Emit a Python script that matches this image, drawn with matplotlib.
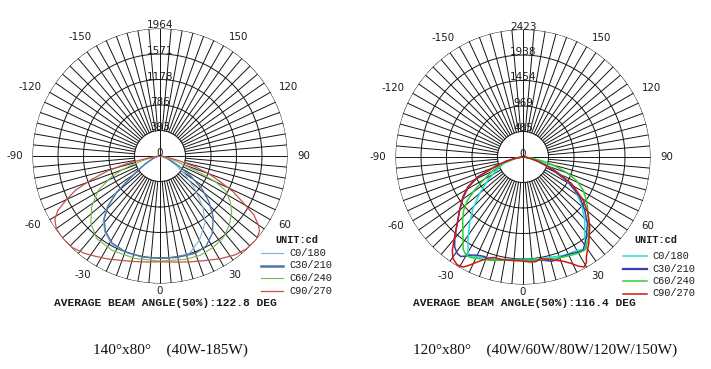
import numpy as np
import matplotlib

matplotlib.use("Agg")
import matplotlib.pyplot as plt
from matplotlib.lines import Line2D

W, H = 711, 369

# ---- left chart: 140x80 (40W-185W), intensity in cd vs gamma (deg, 0 = nadir) ----
L_MAX = 1964
L_RINGS = [393, 786, 1178, 1571, 1964]
L_C0_G = [-90, -80, -70, -62, -57, -53, -50, -46, -41.5, -36, -29, -20, -10, 0,
          10, 17, 25, 34, 40, 47, 54, 60, 68, 80, 90]
L_C0_V = [0, 40, 120, 260, 420, 620, 900, 1140, 1320, 1450, 1545, 1575, 1580, 1578,
          1580, 1564, 1433, 1243, 1031, 720, 470, 280, 130, 40, 0]
L_C30_G = [-90, -80, -70, -62, -57, -53, -50, -46, -41.5, -36, -29, -20, -10, 0,
           10, 20, 27, 34, 41, 47, 52, 57, 62, 70, 80, 90]
L_C30_V = [0, 40, 110, 250, 400, 590, 870, 1110, 1300, 1430, 1530, 1568, 1578, 1578,
           1585, 1595, 1560, 1440, 1250, 1030, 820, 560, 330, 140, 40, 0]
L_C60_G = [-90, -82, -76, -72, -69.9, -66.8, -61, -53.4, -45.7, -37.6, -27, -14, 0,
           14, 22, 30, 38, 45, 52, 57, 62, 65, 67, 69, 72, 80, 90]
L_C60_V = [0, 60, 250, 480, 629, 811, 1086, 1312, 1487, 1602, 1630, 1624, 1619,
           1640, 1650, 1630, 1590, 1510, 1400, 1290, 1150, 950, 700, 450, 250, 60, 0]
L_C90_G = [-90, -85, -80, -77, -74, -71, -68, -65, -62, -59, -55, -50, -44, -38, -33,
           -27, -21, -14, -7, 0, 8, 15, 22, 30, 37, 43, 49, 53, 55, 58, 61, 64, 67,
           70, 73, 76, 80, 85, 90]
L_C90_V = [0, 40, 200, 520, 850, 1120, 1400, 1590, 1780, 1890, 1950, 1964, 1955, 1900,
           1840, 1780, 1720, 1675, 1645, 1630, 1650, 1690, 1742, 1830, 1910, 1955, 1964,
           1920, 1850, 1700, 1450, 1250, 1000, 800, 560, 300, 120, 30, 0]

# ---- right chart: 120x80 (40W..150W) ----
R_MAX = 2423
R_RINGS = [485, 969, 1454, 1938, 2423]
R_C0_G = [-90, -85, -78, -72, -65.6, -56.7, -50, -44.2, -38.8, -33.5, -29.7, -27, -25.9,
          -22, -16.8, -12, -6, 0, 6, 10, 14, 18, 23, 27, 30.6, 33.7, 35.5, 37.7, 44.4,
          51.5, 57.4, 64.8, 73.7, 80, 85, 90]
R_C0_V = [0, 40, 200, 380, 521, 797, 1076, 1364, 1620, 1895, 2111, 2130, 2107,
          2060, 2020, 1990, 1960, 1947, 1950, 1970, 1967, 1990, 2027, 2040, 2056, 2113,
          2080, 1917, 1678, 1418, 1167, 806, 429, 180, 50, 0]
R_C30_G = [-90, -85, -80, -76, -72, -66, -61, -56, -50, -44.7, -40.6, -37.3, -34.3, -32,
           -30.5, -28, -26.3, -23, -21, -18, -15.4, -12, -8.3, -4, 0, 4, 8.3, 12, 15.2,
           18, 21, 24, 26.6, 30, 32.8, 35, 38.5, 44.1, 49.3, 55, 61.3, 68.9, 75, 80,
           85, 90]
R_C30_V = [0, 40, 150, 330, 520, 940, 1190, 1370, 1570, 1776, 1990, 2145, 2219, 2230,
           2187, 2110, 2079, 2040, 2030, 2060, 2033, 2000, 1981, 1965, 1960, 1970, 1981,
           2010, 2051, 2060, 2032, 2040, 2051, 2090, 2106, 2040, 1937, 1759, 1547, 1316,
           976, 510, 260, 130, 40, 0]
R_C60_G = [-90, -85, -80, -72, -65, -60, -56, -52, -48, -44, -40, -36, -33, -30, -27,
           -24, -20, -17, -12, -6, 0, 6, 12, 17.4, 22, 26.3, 30, 33.5, 36, 38, 44.7,
           52.3, 57, 61.2, 66, 70, 74, 77.8, 82, 86, 90]
R_C60_V = [0, 40, 140, 400, 650, 850, 1100, 1340, 1520, 1650, 1780, 1940, 2090, 2160,
           2150, 2110, 2080, 2051, 2000, 1975, 1960, 1970, 1990, 2020, 2050, 2080, 2110,
           2124, 2060, 2006, 1776, 1547, 1420, 1303, 1120, 911, 650, 422, 200, 60, 0]
R_C90_G = [-90, -85, -80, -76, -72.3, -66.4, -61.7, -56.5, -50.1, -44.7, -40.6, -37.2,
           -34.6, -31.5, -28.5, -26.3, -23.3, -19, -15.8, -12, -8.3, -4, 0, 4, 7, 10,
           13, 17, 21, 24.4, 27, 29, 31, 32.4, 35, 37.3, 43.7, 49.1, 54.4, 61.4, 68.2,
           74, 80, 85, 90]
R_C90_V = [0, 40, 150, 320, 499, 935, 1189, 1369, 1572, 1776, 1996, 2222, 2344, 2400,
           2380, 2292, 2168, 2030, 1984, 1990, 1981, 1975, 1979, 2000, 2004, 1960, 1990,
           2050, 2120, 2222, 2330, 2390, 2340, 2247, 2140, 2064, 1836, 1637, 1405, 1047,
           581, 300, 120, 40, 0]

NAMES = ["C0/180", "C30/210", "C60/240", "C90/270"]
L_COLORS = ["#7fb6d8", "#4f74a8", "#7cb84e", "#c8504a"]
R_COLORS = ["#22dede", "#3a3ab4", "#30d030", "#d01818"]
ANGLE_TICKS = [30, 60, 90, 120, 150]

MONO = ["Liberation Mono", "DejaVu Sans Mono"]
GRID = "#141414"
INK = "#1c1c1c"


def fxy(x, y):
    return x / W, 1 - y / H


def polar_chart(fig, cx, cy, rmax, rings, series, colors, lw):
    R = 127.5
    ax = fig.add_axes([(cx - R) / W, (H - cy - R) / H, 2 * R / W, 2 * R / H],
                      projection="polar")
    ax.set_theta_zero_location("S")
    ax.set_theta_direction(1)
    ax.set_ylim(0, rmax)
    ax.set_xticks([])
    ax.set_yticks([])
    ax.grid(False)
    ax.spines["polar"].set_visible(False)
    ax.patch.set_alpha(0)

    th = np.linspace(0, 2 * np.pi, 361)
    for v in rings:
        ax.plot(th, np.full_like(th, v), color=GRID, lw=0.7, zorder=1)
    for d in range(0, 360, 5):
        r0 = 0 if d % 90 == 0 else rings[0]
        ax.plot([np.deg2rad(d)] * 2, [r0, rmax], color=GRID, lw=0.7, zorder=1)

    for v in [0] + rings:
        ax.text(np.pi, v, f"{v}", ha="center", va="baseline", fontsize=7.5,
                color=INK, zorder=3)
    rl = rmax * 1.075
    for a in ANGLE_TICKS:
        ax.text(np.deg2rad(a), rl, f"{a}", ha="left", va="center", fontsize=7.4,
                color=INK)
        ax.text(np.deg2rad(-a), rl, f"{-a}", ha="right", va="center", fontsize=7.4,
                color=INK)
    ax.text(0, rmax * 1.06, "0", ha="center", va="center", fontsize=7.4, color=INK)

    for (g, v), c, w in zip(series, colors, lw):
        ax.plot(np.deg2rad(g), v, color=c, lw=w, zorder=2)
    return ax


def legend(fig, x0, x1, xt, xc, ys, colors, lw):
    fig.text(*fxy(xc, ys[0]), "UNIT:cd", ha="center", va="center", fontsize=7.4,
             family=MONO, weight="bold", color=INK)
    for y, name, c, w in zip(ys[1:], NAMES, colors, lw):
        (a, b), (a2, _) = fxy(x0, y), fxy(x1, y)
        fig.add_artist(Line2D([a, a2], [b, b], color=c, lw=w, transform=fig.transFigure))
        fig.text(*fxy(xt, y), name, ha="left", va="center", fontsize=7.4, family=MONO,
                 color=INK)


fig = plt.figure(figsize=(W / 100, H / 100), dpi=100)
fig.patch.set_facecolor("white")

left_series = [(L_C0_G, L_C0_V), (L_C30_G, L_C30_V), (L_C60_G, L_C60_V), (L_C90_G, L_C90_V)]
right_series = [(R_C0_G, R_C0_V), (R_C30_G, R_C30_V), (R_C60_G, R_C60_V), (R_C90_G, R_C90_V)]

polar_chart(fig, 160, 156, L_MAX, L_RINGS, left_series, L_COLORS, [0.8, 1.0, 0.8, 0.9])
polar_chart(fig, 523, 157, R_MAX, R_RINGS, right_series, R_COLORS, [1.1, 1.1, 1.1, 1.1])

legend(fig, 261, 283, 289, 297, [240, 253, 265.5, 278, 290.5], L_COLORS,
       [0.8, 1.8, 0.8, 0.9])
legend(fig, 623, 647, 652, 656, [240, 256, 268.5, 281, 293.5], R_COLORS,
       [1.1, 1.6, 1.1, 1.1])

fig.text(*fxy(165, 303), "AVERAGE BEAM ANGLE(50%):122.8 DEG", ha="center", va="center",
         fontsize=8.1, family=MONO, weight="bold", color=INK)
fig.text(*fxy(524, 303), "AVERAGE BEAM ANGLE(50%):116.4 DEG", ha="center", va="center",
         fontsize=8.1, family=MONO, weight="bold", color=INK)

fig.text(*fxy(170, 350), "140°x80°    (40W-185W)", ha="center", va="center",
         fontsize=11, family="Liberation Serif", color="#111111")
fig.text(*fxy(545, 350), "120°x80°    (40W/60W/80W/120W/150W)", ha="center",
         va="center", fontsize=11, family="Liberation Serif", color="#111111")

fig.savefig("out.png", dpi=100, facecolor="white")
